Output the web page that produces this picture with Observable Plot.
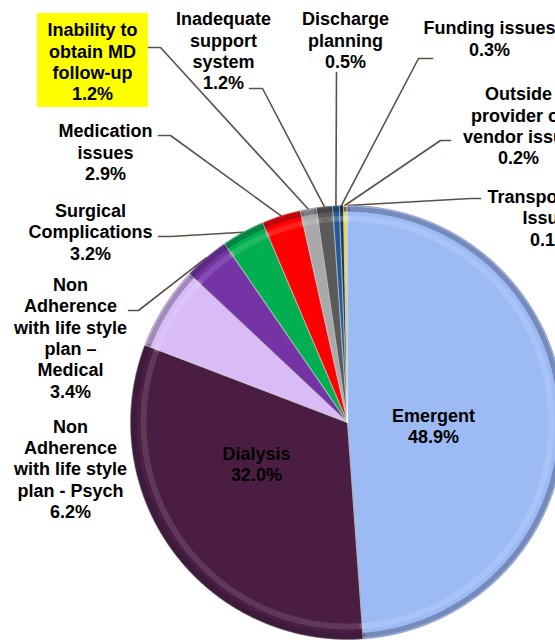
<!DOCTYPE html>
<html>
<head>
<meta charset="utf-8">
<script src="https://cdn.jsdelivr.net/npm/d3@7"></script>
<script src="https://cdn.jsdelivr.net/npm/@observablehq/plot@0.6"></script>
<style>
  html, body { margin: 0; padding: 0; background: #fff; }
  #chart svg { display: block; }
</style>
</head>
<body>
<div id="chart"></div>
<script>
// ---- data ----
const categories = [
  "Emergent",
  "Dialysis",
  "Non Adherence with life style plan - Psych",
  "Non Adherence with life style plan – Medical",
  "Surgical Complications",
  "Medication issues",
  "Inability to obtain MD follow-up",
  "Inadequate support system",
  "Discharge planning",
  "Funding issues",
  "Outside provider or vendor issue",
  "Transportation Issues"
];
const values = [48.9, 32.0, 6.2, 3.4, 3.2, 2.9, 1.2, 1.2, 0.5, 0.3, 0.2, 0.1];
const labelLines = [
  ["Emergent"],
  ["Dialysis"],
  ["Non", "Adherence", "with life style", "plan - Psych"],
  ["Non", "Adherence", "with life style", "plan –", "Medical"],
  ["Surgical", "Complications"],
  ["Medication", "issues"],
  ["Inability to", "obtain MD", "follow-up"],
  ["Inadequate", "support", "system"],
  ["Discharge", "planning"],
  ["Funding issues"],
  ["Outside", "provider or", "vendor issue"],
  ["Transportation", "Issues"]
];
const colors = [
  "#9cbbf5", "#4b1d42", "#d9bbf6", "#7434a6", "#00b050", "#ff0000",
  "#a9a9a9", "#5a5a5a", "#1f5c9a", "#1c355e", "#f0f000", "#f4f4f4"
];

// ---- layout (pixels) ----
const W = 555, H = 640, CX = 347, CY = 422, R = 217;
// label block centre [x, y]
const labelPos = [
  [433, 425], [256, 463], [70, 468], [70, 337], [90, 231], [105, 151.5],
  [92, 61], [223, 50], [345, 39.5], [489, 37.5], [518, 125], [550, 217]
];
// leader line start and elbow [x0, y0, x1, y1] (null = none)
const leaders = [
  null, null, null,
  [128, 310, 138, 310],
  [158, 236, 170, 236],
  [158, 135, 170, 135],
  [148, 47, 160, 47],
  [249, 88, 262, 88],
  [336, 72, 336, 72],
  [432, 58, 418, 58],
  [450, 140, 440, 140],
  [480, 198, 470, 198]
];
const highlightBox = [37, 13, 148, 107]; // yellow box behind MD follow-up label

const px = v => (v - CX) / R;
const py = v => (CY - v) / R;

// ---- geometry ----
const arcs = d3.pie().sort(null).value(d => d.value)(
  categories.map((name, i) => ({name, value: values[i]}))
);

const slicePts = [];
const rimPts = [];
const hiPts = [];
const edgePts = [];
arcs.forEach(a => {
  const name = a.data.name;
  const n = Math.max(2, Math.ceil((a.endAngle - a.startAngle) / 0.01));
  slicePts.push({name, x: 0, y: 0});
  for (let k = 0; k <= n; k++) {
    const t = a.startAngle + (a.endAngle - a.startAngle) * k / n;
    slicePts.push({name, x: Math.sin(t), y: Math.cos(t)});
    rimPts.push({name, x: 0.983 * Math.sin(t), y: 0.983 * Math.cos(t)});
    hiPts.push({name, x: 0.94 * Math.sin(t), y: 0.94 * Math.cos(t)});
  }
  slicePts.push({name, x: 0, y: 0});
  edgePts.push({name, k: 0, x: 0, y: 0});
  edgePts.push({name, k: 1, x: Math.sin(a.startAngle), y: Math.cos(a.startAngle)});
});

const leaderPts = [];
arcs.forEach((a, i) => {
  const L = leaders[i];
  if (!L) return;
  const m = (a.startAngle + a.endAngle) / 2;
  const name = a.data.name;
  leaderPts.push({name, x: px(L[0]), y: py(L[1])});
  leaderPts.push({name, x: px(L[2]), y: py(L[3])});
  leaderPts.push({name, x: Math.sin(m) * 1.0, y: Math.cos(m) * 1.0});
});

const labels = arcs.map((a, i) => ({
  name: a.data.name,
  text: [...labelLines[i], values[i].toFixed(1) + "%"].join("\n"),
  x: px(labelPos[i][0]),
  y: py(labelPos[i][1])
}));

const chart = Plot.plot({
  width: W,
  height: H,
  margin: 0,
  x: {domain: [px(0), px(W)], range: [0, W], axis: null},
  y: {domain: [py(H), py(0)], range: [H, 0], axis: null},
  color: {domain: categories, range: colors},
  style: {background: "#ffffff", overflow: "hidden"},
  marks: [
    Plot.rect([highlightBox], {
      x1: d => px(d[0]), y1: d => py(d[1]), x2: d => px(d[2]), y2: d => py(d[3]),
      fill: "#ffff00"
    }),
    Plot.line(leaderPts, {x: "x", y: "y", z: "name", stroke: "#5e4f46", strokeWidth: 1.6}),
    Plot.line(slicePts, {x: "x", y: "y", z: "name", fill: "name", stroke: "#6d6d6d", strokeWidth: 0.6, strokeOpacity: 0.8}),
    Plot.line(hiPts, {x: "x", y: "y", z: "name", stroke: "#ffffff", strokeWidth: 6, strokeOpacity: 0.12}),
    Plot.line(rimPts, {x: "x", y: "y", z: "name", stroke: "#1a1a2e", strokeWidth: 5, strokeOpacity: 0.3}),
    Plot.line(edgePts, {x: "x", y: "y", z: "name", stroke: "#ffffff", strokeWidth: 1.2, strokeOpacity: 0.45}),
    Plot.text(labels, {
      x: "x", y: "y", text: "text",
      fontSize: 18, fontWeight: "bold", fill: "#000",
      fontFamily: "'Liberation Sans', Arial, sans-serif",
      lineHeight: 1.19, textAnchor: "middle", lineAnchor: "middle"
    })
  ]
});
document.getElementById("chart").appendChild(chart);
</script>
</body>
</html>
